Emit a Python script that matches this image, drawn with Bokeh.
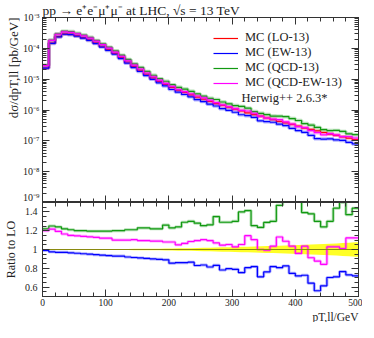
from bokeh.plotting import figure
from bokeh.layouts import column
from bokeh.models import (LinearAxis, LogAxis, FixedTicker, CustomJSTickFormatter, Label,
                          Range1d, Legend, LegendItem, Title)
from bokeh.embed import file_html
from bokeh.resources import INLINE

FONT = "Liberation Serif"

# ---------------- data ----------------
bin_edges = [0, 10, 20, 30, 40, 50, 60, 70, 80, 90, 100, 110, 120, 130, 140, 150, 160, 170, 180, 190,
             200, 210, 220, 230, 240, 250, 260, 270, 280, 290, 300, 310, 320, 330, 340, 350, 360, 370,
             380, 390, 400, 410, 420, 430, 440, 450, 460, 470, 480, 490, 500]

lo_xsec = [2.3e-5, 1.48e-4, 2.4e-4, 2.95e-4, 2.88e-4, 2.57e-4, 2.24e-4, 1.9e-4, 1.51e-4, 1.17e-4,
           9.1e-5, 6.9e-5, 5.0e-5, 3.6e-5, 2.6e-5, 1.95e-5, 1.45e-5, 1.1e-5, 8.5e-6, 6.8e-6,
           5.4e-6, 4.4e-6, 3.7e-6, 3.1e-6, 2.6e-6, 2.24e-6, 1.9e-6, 1.62e-6, 1.41e-6, 1.23e-6,
           1.07e-6, 9.3e-7, 8.1e-7, 7.1e-7, 6.3e-7, 5.5e-7, 4.9e-7, 4.3e-7, 3.8e-7, 3.4e-7,
           3.0e-7, 2.6e-7, 2.35e-7, 2.1e-7, 1.86e-7, 1.66e-7, 1.51e-7, 1.35e-7, 1.23e-7, 1.1e-7]

ratio_ew = [0.99, 0.975, 0.97, 0.97, 0.965, 0.96, 0.955, 0.95, 0.945, 0.94,
            0.935, 0.93, 0.93, 0.92, 0.915, 0.91, 0.905, 0.90, 0.895, 0.89,
            0.855, 0.86, 0.86, 0.865, 0.83, 0.835, 0.814, 0.832, 0.782, 0.796,
            0.789, 0.754, 0.807, 0.818, 0.709, 0.761, 0.818, 0.807, 0.825, 0.747,
            0.719, 0.726, 0.642, 0.561, 0.614, 0.702, 0.709, 0.765, 0.73, 0.72]

ratio_qcd = [1.22, 1.25, 1.24, 1.22, 1.21, 1.20, 1.20, 1.195, 1.195, 1.195,
             1.195, 1.20, 1.20, 1.21, 1.21, 1.23, 1.23, 1.22, 1.22, 1.26,
             1.23, 1.24, 1.29, 1.30, 1.28, 1.253, 1.263, 1.35, 1.29, 1.29,
             1.30, 1.40, 1.414, 1.253, 1.235, 1.288, 1.30, 1.47, 1.60, 1.55,
             1.52, 1.393, 1.38, 1.30, 1.24, 1.30, 1.44, 1.50, 1.37, 1.44]

ratio_qcdew = [1.20, 1.217, 1.193, 1.165, 1.15, 1.145, 1.14, 1.135, 1.13, 1.12,
               1.12, 1.10, 1.10, 1.10, 1.105, 1.095, 1.095, 1.09, 1.09, 1.08,
               1.08, 1.05, 1.065, 1.085, 1.095, 1.105, 1.095, 1.07, 1.046, 1.053,
               1.028, 1.053, 1.147, 1.105, 1.00, 0.993, 1.035, 1.133, 1.088, 1.035,
               0.958, 1.035, 0.912, 0.877, 0.842, 1.028, 1.028, 1.01, 1.123, 1.123]

lo_rel_unc = [0.004, 0.004, 0.004, 0.004, 0.004, 0.004, 0.004, 0.004, 0.005, 0.005,
              0.005, 0.006, 0.006, 0.006, 0.007, 0.007, 0.008, 0.008, 0.009, 0.010,
              0.011, 0.012, 0.013, 0.014, 0.016, 0.018, 0.019, 0.021, 0.023, 0.025,
              0.027, 0.028, 0.030, 0.032, 0.034, 0.036, 0.038, 0.040, 0.042, 0.044,
              0.047, 0.050, 0.053, 0.056, 0.059, 0.062, 0.065, 0.069, 0.073, 0.077]

series_labels = ["MC (LO-13)", "MC (EW-13)", "MC (QCD-13)", "MC (QCD-EW-13)"]
series_colors = ["#ff0000", "#0000ff", "#119911", "#ff00ff"]
x_major = [0, 100, 200, 300, 400, 500]
x_minor = list(range(0, 501, 20))
y_major = [1e-9, 1e-8, 1e-7, 1e-6, 1e-5, 1e-4, 1e-3]
ratio_major = [0.6, 0.8, 1.0, 1.2, 1.4]
ratio_minor = [0.5 + 0.05 * i for i in range(21)]

# ---------------- helpers ----------------
AX = "#333333"
TXT = "#222222"
empty_fmt = CustomJSTickFormatter(code="return '';")
log_fmt = CustomJSTickFormatter(code="""
const e = Math.round(Math.log10(tick));
const m = {'-':'\u207b','0':'\u2070','1':'\u00b9','2':'\u00b2','3':'\u00b3','4':'\u2074',
           '5':'\u2075','6':'\u2076','7':'\u2077','8':'\u2078','9':'\u2079'};
return '10' + String(e).split('').map(c => m[c]).join('');
""")
ratio_fmt = CustomJSTickFormatter(code="return (Math.abs(tick-1)<1e-9) ? '1' : tick.toFixed(1);")
lin_fmt = CustomJSTickFormatter(code="return tick.toFixed(0);")

y_minor = []
for e in range(-9, -3):
    for k in range(1, 10):
        y_minor.append(k * 10.0 ** e)
y_minor.append(1e-3)

xticker = FixedTicker(ticks=x_major, minor_ticks=x_minor)
yticker = FixedTicker(ticks=y_major, minor_ticks=y_minor)
rticker = FixedTicker(ticks=ratio_major, minor_ticks=ratio_minor)


def style_axis(ax, labels=True, size="10px"):
    ax.major_tick_in = 7
    ax.major_tick_out = 0
    ax.minor_tick_in = 4
    ax.minor_tick_out = 0
    ax.axis_line_color = AX
    ax.major_tick_line_color = AX
    ax.minor_tick_line_color = AX
    ax.major_label_text_font = FONT
    ax.major_label_text_font_size = size
    ax.major_label_text_color = TXT
    ax.axis_label_text_font = FONT
    ax.axis_label_text_font_style = "normal"
    ax.axis_label_text_font_size = "12px"
    ax.axis_label_text_color = TXT
    if not labels:
        ax.formatter = empty_fmt
        ax.major_label_standoff = 0
        ax.major_label_text_font_size = "0px"


def make_title(text, align, size):
    t = Title(text=text, align=align, text_font=FONT, text_font_size=size,
              text_font_style="normal", text_color=TXT)
    t.standoff = 0
    return t


def step_vals(v):
    return list(v) + [v[-1]]


ew = [a * b for a, b in zip(lo_xsec, ratio_ew)]
qcd = [a * b for a, b in zip(lo_xsec, ratio_qcd)]
qcdew = [a * b for a, b in zip(lo_xsec, ratio_qcdew)]
main_series = [lo_xsec, ew, qcd, qcdew]
ratio_series = [[a / a for a in lo_xsec], ratio_ew, ratio_qcd, ratio_qcdew]

# ---------------- main panel ----------------
xr = Range1d(0, 500)
p = figure(width=362, height=202, y_axis_type="log", x_range=xr,
           y_range=Range1d(1e-9, 1e-3), output_backend="svg", toolbar_location=None,
           title=make_title("pp → e⁺e⁻μ⁺μ⁻ at LHC, √s = 13 TeV", "left", "13.5px"),
           min_border_left=37, min_border_right=4, min_border_top=0, min_border_bottom=0)
p.xgrid.visible = False
p.ygrid.visible = False
p.outline_line_color = AX
p.background_fill_color = "white"
p.border_fill_color = "white"

p.xaxis.ticker = xticker
style_axis(p.xaxis[0], labels=False)
p.yaxis.ticker = yticker
p.yaxis.formatter = log_fmt
style_axis(p.yaxis[0])
p.yaxis.major_label_standoff = 3
top_ax = LinearAxis(ticker=xticker)
style_axis(top_ax, labels=False)
p.add_layout(top_ax, "above")
right_ax = LogAxis(ticker=yticker)
style_axis(right_ax, labels=False)
p.add_layout(right_ax, "right")
p.add_layout(make_title("dσ/dpT,ll [pb/GeV]", "right", "13px"), "left")

renderers = []
for vals, col in zip(main_series, series_colors):
    p.step(x=bin_edges, y=step_vals(vals), mode="after", line_color=col, line_width=3.5, line_alpha=0.3)
    r = p.step(x=bin_edges, y=step_vals(vals), mode="after", line_color=col, line_width=1.2)
    renderers.append(r)

legend = Legend(items=[LegendItem(label=lab, renderers=[r]) for lab, r in zip(series_labels, renderers)],
                location=(171, 112), border_line_color=None, background_fill_alpha=0,
                label_text_font=FONT, label_text_font_size="12.5px", label_text_color=TXT,
                glyph_width=25, glyph_height=12, label_height=12, label_standoff=7,
                spacing=0, padding=0, margin=0)
p.add_layout(legend)
p.add_layout(Label(x=315, y=2.5e-6, text="Herwig++ 2.6.3*", text_font=FONT, text_font_size="12.5px",
                   text_baseline="middle", text_color=TXT))

# ---------------- ratio panel ----------------
q = figure(width=362, height=120, x_range=xr, y_range=Range1d(0.5, 1.5),
           output_backend="svg", toolbar_location=None,
           min_border_left=37, min_border_right=4, min_border_top=0, min_border_bottom=0)
q.xgrid.visible = False
q.ygrid.visible = False
q.outline_line_color = AX
q.background_fill_color = "white"
q.border_fill_color = "white"

q.xaxis.ticker = xticker
q.xaxis.formatter = lin_fmt
style_axis(q.xaxis[0], size="9.5px")
q.xaxis.major_label_standoff = 2
q.yaxis.ticker = rticker
q.yaxis.formatter = ratio_fmt
style_axis(q.yaxis[0])
q.yaxis.major_label_standoff = 5
q.yaxis.axis_label = "Ratio to LO"
q.yaxis.axis_label_standoff = 4
top_ax2 = LinearAxis(ticker=xticker)
style_axis(top_ax2, labels=False)
q.add_layout(top_ax2, "above")
right_ax2 = LinearAxis(ticker=rticker)
style_axis(right_ax2, labels=False)
q.add_layout(right_ax2, "right")
q.add_layout(make_title("pT,ll/GeV", "right", "11.5px"), "below")

centers = [0.5 * (a + b) for a, b in zip(bin_edges[:-1], bin_edges[1:])]
bx = [bin_edges[0]] + centers + [bin_edges[-1]]
bu = [1 + lo_rel_unc[0]] + [1 + u for u in lo_rel_unc] + [1 + lo_rel_unc[-1]]
bd = [1 - lo_rel_unc[0]] + [1 - u for u in lo_rel_unc] + [1 - lo_rel_unc[-1]]
q.varea(x=bx, y1=bd, y2=bu, fill_color="#ffff00", fill_alpha=0.85)

for i, (vals, col) in enumerate(zip(ratio_series, series_colors)):
    if i == 0:
        continue
    q.step(x=bin_edges, y=step_vals(vals), mode="after", line_color=col, line_width=3.0, line_alpha=0.3)
    q.step(x=bin_edges, y=step_vals(vals), mode="after", line_color=col, line_width=1.2)
q.step(x=bin_edges, y=step_vals(ratio_series[0]), mode="after", line_color="#8a8a10", line_width=1.2)

layout = column(p, q, spacing=0)
open("out.html", "w").write(file_html(layout, INLINE))
